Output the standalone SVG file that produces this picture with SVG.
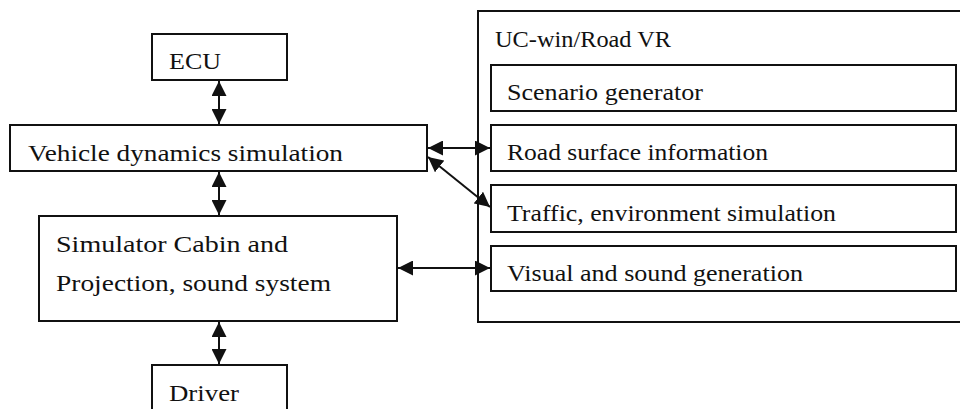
<svg xmlns="http://www.w3.org/2000/svg" width="960" height="409" viewBox="0 0 960 409">
<style>
.box{fill:#fff;stroke:#111;stroke-width:2}
.t{font-family:"Liberation Serif","DejaVu Serif",serif;font-size:23px;fill:#111}
.c{stroke:#111;stroke-width:2;fill:none}
</style>
<defs>
<marker id="ah" viewBox="0 0 10 10" refX="10" refY="5" markerUnits="userSpaceOnUse" markerWidth="15" markerHeight="15" orient="auto-start-reverse">
<path d="M0,0 L10,5 L0,10 z" fill="#111"/>
</marker>
</defs>
<rect width="960" height="409" fill="#fff"/>
<g id="uc-win-road">
<rect class="box" x="478" y="11" width="500" height="311"/>
<text class="t" x="495" y="47" textLength="176" lengthAdjust="spacingAndGlyphs">UC-win/Road VR</text>
</g>
<g id="scenario">
<rect class="box" x="491" y="65" width="465" height="46"/>
<text class="t" x="507" y="100" textLength="196" lengthAdjust="spacingAndGlyphs">Scenario generator</text>
</g>
<g id="road-surface">
<rect class="box" x="491" y="125" width="465" height="46"/>
<text class="t" x="507" y="160" textLength="261" lengthAdjust="spacingAndGlyphs">Road surface information</text>
</g>
<g id="traffic">
<rect class="box" x="491" y="185" width="465" height="47"/>
<text class="t" x="507" y="221" textLength="329" lengthAdjust="spacingAndGlyphs">Traffic, environment simulation</text>
</g>
<g id="visual">
<rect class="box" x="491" y="246" width="465" height="45"/>
<text class="t" x="507" y="281" textLength="296" lengthAdjust="spacingAndGlyphs">Visual and sound generation</text>
</g>
<g id="ecu">
<rect class="box" x="152" y="34" width="135" height="46"/>
<text class="t" x="169" y="69" textLength="52" lengthAdjust="spacingAndGlyphs">ECU</text>
</g>
<g id="vehicle">
<rect class="box" x="10" y="125" width="417" height="46"/>
<text class="t" x="28" y="161" textLength="315" lengthAdjust="spacingAndGlyphs">Vehicle dynamics simulation</text>
</g>
<g id="cabin">
<rect class="box" x="39" y="216" width="358" height="105"/>
<text class="t" x="56" y="252" textLength="232" lengthAdjust="spacingAndGlyphs">Simulator Cabin and</text>
<text class="t" x="56" y="291" textLength="275" lengthAdjust="spacingAndGlyphs">Projection, sound system</text>
</g>
<g id="driver">
<rect class="box" x="152" y="365" width="135" height="60"/>
<text class="t" x="169" y="401" textLength="70" lengthAdjust="spacingAndGlyphs">Driver</text>
</g>
<g id="connectors">
<line class="c" x1="219" y1="81" x2="219" y2="124" marker-start="url(#ah)" marker-end="url(#ah)"/>
<line class="c" x1="219" y1="172" x2="219" y2="215" marker-start="url(#ah)" marker-end="url(#ah)"/>
<line class="c" x1="219" y1="322" x2="219" y2="364" marker-start="url(#ah)" marker-end="url(#ah)"/>
<line class="c" x1="428" y1="148" x2="490" y2="148" marker-start="url(#ah)" marker-end="url(#ah)"/>
<line class="c" x1="428" y1="157" x2="490" y2="207" marker-start="url(#ah)" marker-end="url(#ah)"/>
<line class="c" x1="398" y1="268" x2="490" y2="268" marker-start="url(#ah)" marker-end="url(#ah)"/>
</g>
</svg>
